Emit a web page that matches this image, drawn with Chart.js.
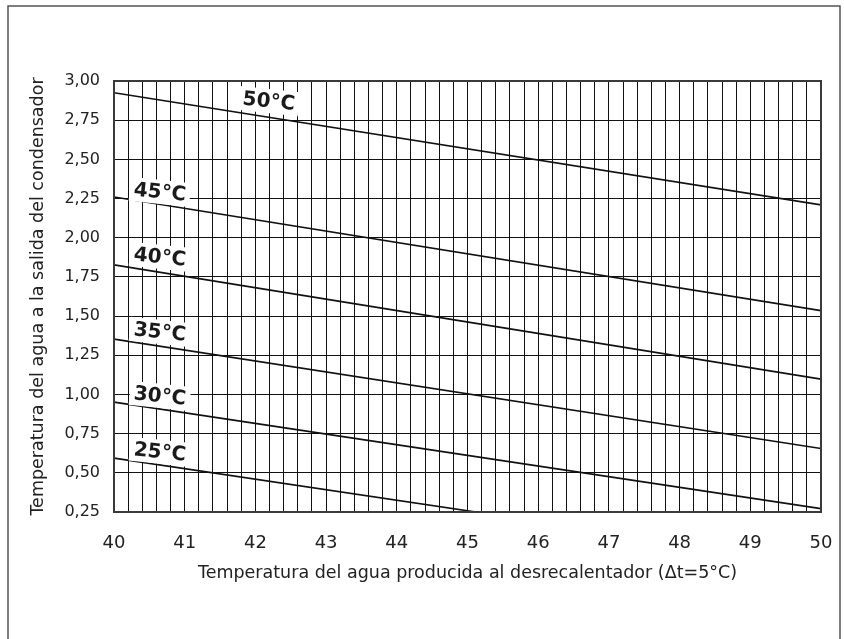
<!DOCTYPE html>
<html>
<head>
<meta charset="utf-8">
<script src="https://cdn.jsdelivr.net/npm/chart.js@4.4.0/dist/chart.umd.min.js"></script>
<style>
  html, body { margin: 0; padding: 0; background: #ffffff; }
  #wrap { width: 844px; height: 639px; position: relative; }
</style>
</head>
<body>
<div id="wrap"><canvas id="c" width="844" height="639"></canvas></div>
<script>
// ---- data ----
const seriesNames = ['50°C', '45°C', '40°C', '35°C', '30°C', '25°C'];
const xStart = [40, 40, 40, 40, 40, 40];
const xEnd   = [50, 50, 50, 50, 50, 45.12];
const yStart = [2.925, 2.26, 1.827, 1.353, 0.951, 0.594];
const yEnd   = [2.21, 1.535, 1.098, 0.655, 0.272, 0.25];
// where each curve label sits (data units)
const labelX = [42.19, 40.65, 40.65, 40.65, 40.65, 40.65];
const labelY = [2.872, 2.292, 1.878, 1.399, 0.991, 0.634];
const xTickLabels = [40, 41, 42, 43, 44, 45, 46, 47, 48, 49, 50];
const yMin = 0.25, yMax = 3.00, yStep = 0.25;
const xMin = 40, xMax = 50, xMinorStep = 0.2;
const xTitle = 'Temperatura del agua producida al desrecalentador (Δt=5°C)';
const yTitle = 'Temperatura del agua a la salida del condensador';

const datasets = seriesNames.map((name, i) => ({
  label: name,
  data: [{x: xStart[i], y: yStart[i]}, {x: xEnd[i], y: yEnd[i]}],
  borderColor: '#111111',
  borderWidth: 1.7,
  pointRadius: 0,
  fill: false,
  tension: 0
}));

const framePlugin = {
  id: 'frame',
  beforeDraw(chart) {
    const ctx = chart.ctx;
    ctx.save();
    ctx.fillStyle = '#ffffff';
    ctx.fillRect(0, 0, chart.width, chart.height);
    ctx.strokeStyle = '#555555';
    ctx.lineWidth = 1.5;
    ctx.strokeRect(8, 6, 832, 700);
    ctx.restore();
  },
  afterDatasetsDraw(chart) {
    const ctx = chart.ctx;
    const xs = chart.scales.x, ys = chart.scales.y;
    ctx.save();
    ctx.font = 'bold 20px "DejaVu Sans"';
    ctx.textAlign = 'center';
    ctx.textBaseline = 'middle';
    seriesNames.forEach((name, i) => {
      const px = xs.getPixelForValue(labelX[i]);
      const py = ys.getPixelForValue(labelY[i]);
      const w = ctx.measureText(name).width;
      ctx.save();
      ctx.translate(px, py);
      ctx.rotate(6 * Math.PI / 180);
      ctx.fillStyle = '#ffffff';
      ctx.fillRect(-w / 2 - 4, -12, w + 8, 24);
      ctx.fillStyle = '#1a1a1a';
      ctx.fillText(name, 0, 1);
      ctx.restore();
    });
    ctx.restore();
  },
  afterDraw(chart) {
    const a = chart.chartArea;
    const ctx = chart.ctx;
    ctx.save();
    ctx.strokeStyle = '#3a3a3a';
    ctx.lineWidth = 2;
    ctx.strokeRect(a.left, a.top, a.right - a.left, a.bottom - a.top);
    ctx.restore();
  }
};

new Chart(document.getElementById('c'), {
  type: 'line',
  data: { datasets },
  options: {
    responsive: false,
    animation: false,
    devicePixelRatio: 1,
    layout: { padding: { top: 81, right: 23, left: 0, bottom: 0 } },
    plugins: { legend: { display: false }, tooltip: { enabled: false } },
    scales: {
      x: {
        type: 'linear',
        min: xMin, max: xMax,
        afterFit(scale) { scale.height = 127; scale.paddingLeft = 0; scale.paddingRight = 0; },
        grid: { color: '#111111', lineWidth: 1, drawTicks: false },
        border: { display: false },
        ticks: {
          stepSize: xMinorStep,
          autoSkip: false,
          maxRotation: 0,
          padding: 21,
          color: '#222222',
          font: { family: '"DejaVu Sans"', size: 18 },
          callback(v) {
            const r = Math.round(v);
            return (Math.abs(v - r) < 1e-6 && xTickLabels.includes(r)) ? String(r) : '';
          }
        },
        title: {
          display: true,
          text: xTitle,
          color: '#222222',
          font: { family: '"DejaVu Sans"', size: 17.5 },
          padding: { top: 0, bottom: 55 }
        }
      },
      y: {
        type: 'linear',
        min: yMin, max: yMax,
        afterFit(scale) { scale.width = 114; scale.paddingTop = 0; scale.paddingBottom = 0; },
        grid: { color: '#111111', lineWidth: 1, drawTicks: false },
        border: { display: false },
        ticks: {
          stepSize: yStep,
          padding: 14,
          color: '#222222',
          font: { family: '"DejaVu Sans"', size: 16 },
          callback(v) { return v.toFixed(2).replace('.', ','); }
        },
        title: {
          display: true,
          text: yTitle,
          color: '#222222',
          font: { family: '"DejaVu Sans"', size: 17.5 },
          padding: { top: 28, bottom: 0 }
        }
      }
    }
  },
  plugins: [framePlugin]
});
</script>
</body>
</html>
